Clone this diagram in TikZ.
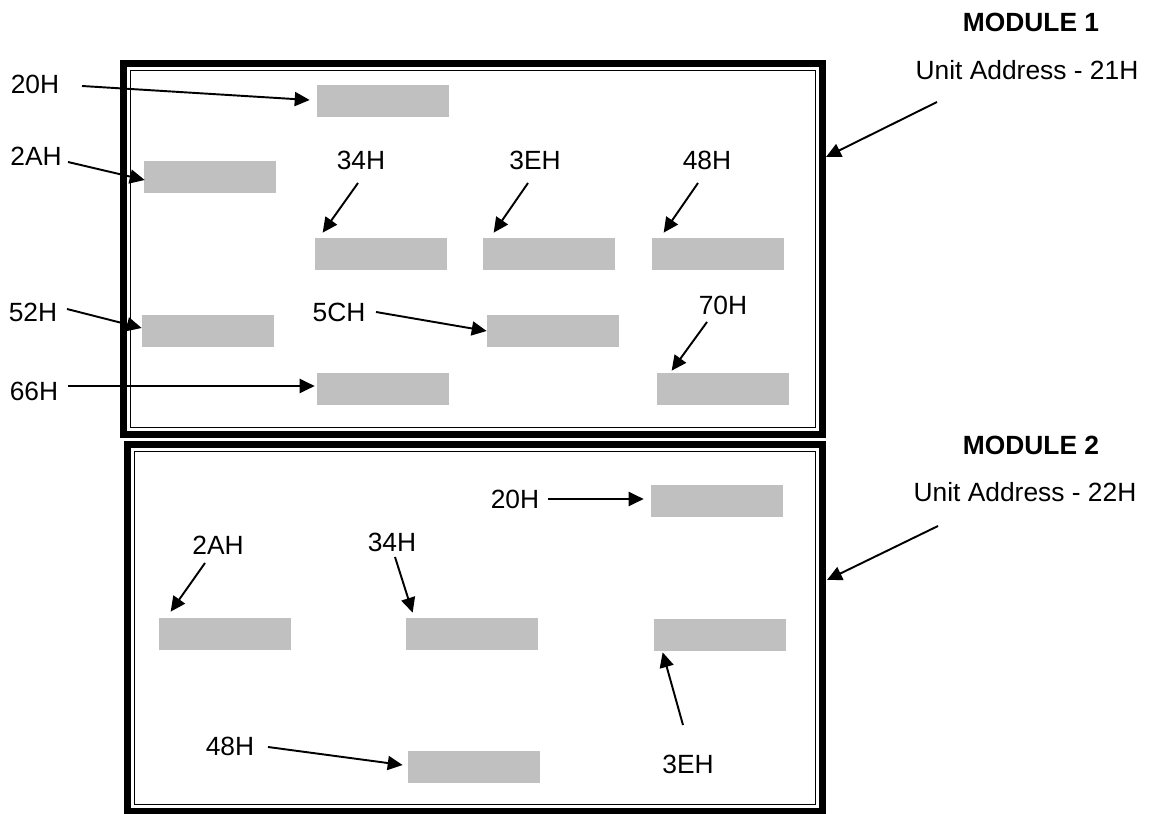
\documentclass[tikz,border=0pt]{standalone}
\usepackage{fontspec}
\setmainfont{Liberation Sans}
\usetikzlibrary{arrows.meta,calc}
\definecolor{boxgray}{RGB}{192,192,192}
\tikzset{
  membox/.style = {fill=boxgray, draw=none, inner sep=0pt,
    minimum width=2.64cm, minimum height=0.64cm},
  addr/.style = {inner sep=0pt, font=\fontsize{15pt}{18pt}\selectfont},
  modtitle/.style = {addr, font=\fontsize{15pt}{18pt}\selectfont\bfseries},
  pointer/.style = {line width=1.1pt, -{Triangle[length=8.5pt,width=8pt]}},
  outerframe/.style = {draw, line width=4pt, inner sep=0pt, outer sep=0pt},
  innerframe/.style = {line width=0.6pt}
}

\begin{document}
\begin{tikzpicture}[x=0.02cm,y=-0.02cm]
  \useasboundingbox (0,0) rectangle (1150,814);
  % module frames
  \node[outerframe, minimum width=13.98cm, minimum height=7.42cm] (mod1) at (473,249) {};
  \draw[innerframe] ($(mod1.north west)+(7,7)$) rectangle ($(mod1.south east)+(-7,-7)$);
  \node[outerframe, minimum width=13.92cm, minimum height=7.34cm] (mod2) at (475,628) {};
  \draw[innerframe] ($(mod2.north west)+(7,7)$) rectangle ($(mod2.south east)+(-7,-7)$);
  % 
  \node[modtitle] (title1) at (1031,22) {MODULE 1};
  \node[addr] (unit1) at (1027,70) {Unit Address - 21H};
  \node[modtitle] (title2) at (1031,445) {MODULE 2};
  \node[addr] (unit2) at (1025,492) {Unit Address - 22H};
  \coordinate (u1) at (937,102);
  \coordinate (u1tip) at (826,157);
  \coordinate (u2) at (938,526);
  \coordinate (u2tip) at (827,580);
  \draw[pointer] (u1) -- (u1tip);
  \draw[pointer] (u2) -- (u2tip);
  % Module 1
  \node[membox] (a20) at (383,101) {};
  \node[membox] (a2A) at (210,177) {};
  \node[membox] (a34) at (381,254) {};
  \node[membox] (a3E) at (549,254) {};
  \node[membox] (a48) at (718,254) {};
  \node[membox] (a52) at (208,331) {};
  \node[membox] (a5C) at (553,331) {};
  \node[membox] (a66) at (383,389) {};
  \node[membox] (a70) at (723,389) {};
  \node[addr] (la20) at (35,84) {20H};
  \node[addr] (la2A) at (36,156) {2AH};
  \node[addr] (la34) at (361,160) {34H};
  \node[addr] (la3E) at (535,160) {3EH};
  \node[addr] (la48) at (707,160) {48H};
  \node[addr] (la52) at (33,312) {52H};
  \node[addr] (la5C) at (339,312) {5CH};
  \node[addr] (la66) at (34,391) {66H};
  \node[addr] (la70) at (723,305) {70H};
  \coordinate (sa20) at (82,86);
  \coordinate (sa2A) at (68,162);
  \coordinate (sa34) at (358,183);
  \coordinate (sa3E) at (528,183);
  \coordinate (sa48) at (698,183);
  \coordinate (sa52) at (67,309);
  \coordinate (sa5C) at (376,312);
  \coordinate (sa66) at (68,386);
  \coordinate (sa70) at (707,322);
  \draw[pointer] (sa20) -- ($(a20.west)+(-7,-1)$);
  \draw[pointer] (sa2A) -- ($(a2A.west)+(1,3)$);
  \draw[pointer] (sa34) -- ($(a34.north west)+(8,-5)$);
  \draw[pointer] (sa3E) -- ($(a3E.north west)+(11,-5)$);
  \draw[pointer] (sa48) -- ($(a48.north west)+(12,-5)$);
  \draw[pointer] (sa52) -- ($(a52.west)+(0,-3)$);
  \draw[pointer] (sa5C) -- (a5C.west);
  \draw[pointer] (sa66) -- ($(a66.west)+(-2,-3)$);
  \draw[pointer] (sa70) -- ($(a70.north west)+(15,-2)$);
  % Module 2
  \node[membox] (b20) at (717,501) {};
  \node[membox] (b2A) at (225,634) {};
  \node[membox] (b34) at (472,634) {};
  \node[membox] (b3E) at (720,635) {};
  \node[membox] (b48) at (474,767) {};
  \node[addr] (lb20) at (515,499) {20H};
  \node[addr] (lb2A) at (218,545) {2AH};
  \node[addr] (lb34) at (392,542) {34H};
  \node[addr] (lb3E) at (688,764) {3EH};
  \node[addr] (lb48) at (230,746) {48H};
  \coordinate (sb20) at (548,499);
  \coordinate (sb2A) at (205,563);
  \coordinate (sb34) at (395,557);
  \coordinate (sb3E) at (683,725);
  \coordinate (sb48) at (268,747);
  \draw[pointer] (sb20) -- ($(b20.west)+(-7,-2)$);
  \draw[pointer] (sb2A) -- ($(b2A.north west)+(12,-6)$);
  \draw[pointer] (sb34) -- ($(b34.north west)+(7,-5)$);
  \draw[pointer] (sb3E) -- ($(b3E.south west)+(9,1)$);
  \draw[pointer] (sb48) -- ($(b48.west)+(-5,-2)$);
\end{tikzpicture}
\end{document}
